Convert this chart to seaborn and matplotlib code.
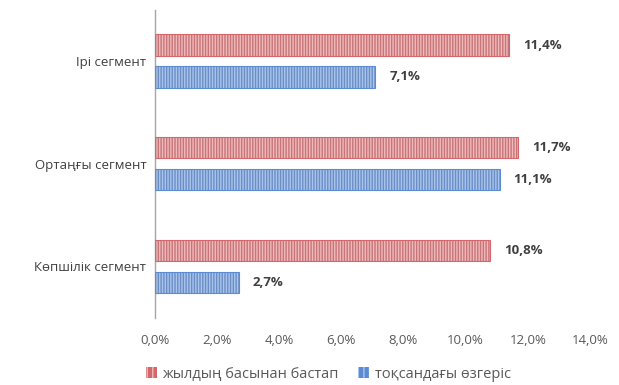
import matplotlib
matplotlib.use("Agg")
import matplotlib.pyplot as plt
import seaborn as sns
import pandas as pd
from matplotlib.patches import Patch

categories = ["Ірі сегмент", "Ортаңғы сегмент", "Көпшілік сегмент"]
series_names = ["жылдың басынан бастап", "тоқсандағы өзгеріс"]
ytd_values = [11.4, 11.7, 10.8]
qtr_values = [7.1, 11.1, 2.7]
x_ticks = [0, 2, 4, 6, 8, 10, 12, 14]

df = pd.DataFrame({
    "cat": categories * 2,
    "series": [series_names[0]] * 3 + [series_names[1]] * 3,
    "val": ytd_values + qtr_values,
})

sns.set_theme(style="white")
plt.rcParams["font.family"] = ["Open Sans", "DejaVu Sans"]

fig = plt.figure(figsize=(6.19, 3.85), dpi=100)
ax = fig.add_axes([0.25, 0.175, 0.703, 0.80])

face = {"жылдың басынан бастап": "#d4676c", "тоқсандағы өзгеріс": "#5b8bd3"}
hatchc = {"жылдың басынан бастап": "#f2b9bb", "тоқсандағы өзгеріс": "#a9c5ee"}

sns.barplot(data=df, y="cat", x="val", hue="series", hue_order=series_names,
            palette=face, orient="h", width=0.62, gap=0.33, ax=ax, legend=False)

for cont, name in zip(ax.containers, series_names):
    for bar in cont:
        bar.set_edgecolor(hatchc[name])
        bar.set_hatch("||||||")
        bar.set_linewidth(0.0)
    for bar in cont:
        x0, y0 = bar.get_xy()
        ax.add_patch(plt.Rectangle((x0, y0), bar.get_width(), bar.get_height(),
                                   fill=False, edgecolor=face[name], lw=0.8, zorder=3))
    ax.bar_label(cont, labels=[f"{v:.1f}%".replace(".", ",") for v in cont.datavalues],
                 padding=10, fontsize=9.5, fontweight="bold", color="#404040")

ax.set_xlim(0, 14)
ax.set_ylim(2.5, -0.5)
ax.set_xticks(x_ticks)
ax.set_xticklabels([f"{t:.1f}%".replace(".", ",") for t in x_ticks], fontsize=9.5, color="#595959")
ax.tick_params(axis="y", labelsize=9.5, labelcolor="#404040", length=0, pad=6)
ax.tick_params(axis="x", length=0, pad=12)
ax.set_xlabel("")
ax.set_ylabel("")
for s in ["top", "right", "bottom"]:
    ax.spines[s].set_visible(False)
ax.spines["left"].set_color("#a6a6a6")
ax.spines["left"].set_linewidth(1.0)

handles = [Patch(facecolor=face[n], edgecolor=hatchc[n], hatch="|||", lw=0) for n in series_names]
fig.legend(handles, series_names, loc="center", bbox_to_anchor=(0.53, 0.028), ncol=2,
           frameon=False, fontsize=10.5, handlelength=0.75, handleheight=0.75,
           columnspacing=1.3, handletextpad=0.4, labelcolor="#595959")

fig.savefig("out.png", dpi=100)
